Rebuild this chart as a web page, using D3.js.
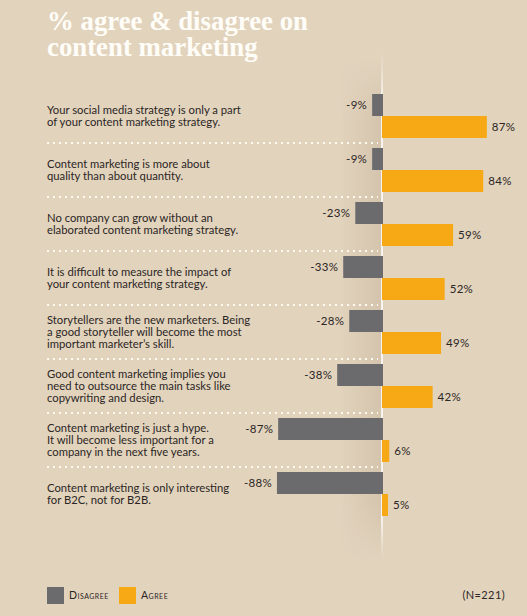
<!DOCTYPE html>
<html><head><meta charset="utf-8">
<script src="https://cdn.jsdelivr.net/npm/d3@7"></script>
<style>
html,body{margin:0;padding:0;background:#e2d3bd;}
svg{display:block;}
</style></head>
<body>
<script>
const categories = [
  ["Your social media strategy is only a part", "of your content marketing strategy."],
  ["Content marketing is more about", "quality than about quantity."],
  ["No company can grow without an", "elaborated content marketing strategy."],
  ["It is difficult to measure the impact of", "your content marketing strategy."],
  ["Storytellers are the new marketers. Being", "a good storyteller will become the most", "important marketer’s skill."],
  ["Good content marketing implies you", "need to outsource the main tasks like", "copywriting and design."],
  ["Content marketing is just a hype.", "It will become less important for a", "company in the next five years."],
  ["Content marketing is only interesting", "for B2C, not for B2B."]
];
const disagree = [-9, -9, -23, -33, -28, -38, -87, -88];
const agree = [87, 84, 59, 52, 49, 42, 6, 5];
const seriesNames = ["Disagree", "Agree"];
const titleLines = ["% agree & disagree on", "content marketing"];
const note = "(N=221)";

const W = 527, H = 616;
const colors = {Disagree: "#6b6a6c", Agree: "#f6a815"};
const svg = d3.select("body").append("svg").attr("width", W).attr("height", H);
svg.append("rect").attr("width", W).attr("height", H).attr("fill", "#e2d3bd");

const defs = svg.append("defs");
const shade = defs.append("linearGradient").attr("id", "shade").attr("x1", 0).attr("x2", 1).attr("y1", 0).attr("y2", 0);
shade.append("stop").attr("offset", "0%").attr("stop-color", "#c9b8a0").attr("stop-opacity", 0);
shade.append("stop").attr("offset", "100%").attr("stop-color", "#c9b8a0").attr("stop-opacity", 0.55);
const vfade = defs.append("linearGradient").attr("id", "vfade").attr("x1", 0).attr("x2", 0).attr("y1", 0).attr("y2", 1);
vfade.append("stop").attr("offset", "0%").attr("stop-color", "#fff").attr("stop-opacity", 0);
vfade.append("stop").attr("offset", "10%").attr("stop-color", "#fff").attr("stop-opacity", 1);
vfade.append("stop").attr("offset", "92%").attr("stop-color", "#fff").attr("stop-opacity", 1);
vfade.append("stop").attr("offset", "100%").attr("stop-color", "#fff").attr("stop-opacity", 0);
const sfade = defs.append("linearGradient").attr("id", "sfade").attr("x1", 0).attr("x2", 0).attr("y1", 0).attr("y2", 1);
sfade.append("stop").attr("offset", "0%").attr("stop-color", "#fff").attr("stop-opacity", 0);
sfade.append("stop").attr("offset", "12%").attr("stop-color", "#fff").attr("stop-opacity", 1);
sfade.append("stop").attr("offset", "88%").attr("stop-color", "#fff").attr("stop-opacity", 1);
sfade.append("stop").attr("offset", "100%").attr("stop-color", "#fff").attr("stop-opacity", 0);
const mask = defs.append("mask").attr("id", "smask");
mask.append("rect").attr("x", 0).attr("y", 60).attr("width", W).attr("height", 500).attr("fill", "url(#sfade)");

// scales
const x = d3.scaleLinear().domain([-100, 100]).range([261.5, 502.5]);
const y = d3.scaleBand().domain(d3.range(categories.length)).range([94, 516]).paddingInner(10 / 54).paddingOuter(0);
const ys = d3.scaleBand().domain(seriesNames).range([0, y.bandwidth()]);

// shaded band near axis
svg.append("rect").attr("x", x(-35)).attr("y", 60).attr("width", x(0) - x(-35)).attr("height", 500)
  .attr("fill", "url(#shade)").attr("mask", "url(#smask)");

// title
const title = svg.append("g").attr("fill", "#fffdf8")
  .style("font-family", "'Liberation Serif', 'DejaVu Serif', serif").style("font-weight", "bold");
titleLines.forEach((t, i) => {
  title.append("text").attr("x", 47).attr("y", 30 + i * 25.5).text(t);
});
title.style("font-size", "26px");
const tw = title.select("text").node().getComputedTextLength();
title.style("font-size", (26 * 261 / tw).toFixed(2) + "px");

// zero line
svg.append("rect").attr("x", x(0) - 0.8).attr("y", 53).attr("width", 1.6).attr("height", 505).attr("fill", "url(#vfade)");

// separators
const seps = d3.range(categories.length - 1);
svg.append("g").selectAll("line").data(seps).join("line")
  .attr("x1", 47).attr("x2", 378)
  .attr("y1", d => y(d) + y.bandwidth() + (y.step() - y.bandwidth()) / 2)
  .attr("y2", d => y(d) + y.bandwidth() + (y.step() - y.bandwidth()) / 2)
  .attr("stroke", "#fffaf2").attr("stroke-width", 2).attr("stroke-dasharray", "2,4");

// labels
const lh = 11.7;
const lab = svg.append("g").style("font-family", "Lato, 'Open Sans', sans-serif").style("font-size", "12px")
  .attr("fill", "#2b2624");
categories.forEach((lines, i) => {
  const c = y(i) + y.bandwidth() / 2;
  const t = lab.append("text").attr("x", 47);
  lines.forEach((l, j) => {
    t.append("tspan").attr("x", 47).attr("y", c - (lines.length - 1) * lh / 2 + 4 + j * lh).text(l);
  });
});
const lw = lab.select("tspan").node().getComputedTextLength();
lab.style("font-size", Math.min(12.5, 12 * 194 / lw).toFixed(2) + "px");

// bars
const rows = categories.map((c, i) => ({i, Disagree: disagree[i], Agree: agree[i]}));
const bars = svg.append("g");
seriesNames.forEach(s => {
  bars.selectAll("rect." + s).data(rows).join("rect").attr("class", s)
    .attr("x", d => Math.min(x(0), x(d[s])) + (s === "Disagree" ? 1 : 0))
    .attr("y", d => y(d.i) + ys(s))
    .attr("width", d => Math.abs(x(d[s]) - x(0)))
    .attr("height", ys.bandwidth())
    .attr("fill", colors[s]);
});

// value labels
const vl = svg.append("g").style("font-family", "Lato, 'Open Sans', sans-serif").style("font-size", "11.5px")
  .style("letter-spacing", "0.3px").attr("fill", "#2b2624");
vl.selectAll("text.d").data(rows).join("text").attr("class", "d")
  .attr("x", d => x(d.Disagree) + 1 - 5).attr("y", d => y(d.i) + ys("Disagree") + ys.bandwidth() / 2 + 4)
  .attr("text-anchor", "end").text(d => d.Disagree + "%");
vl.selectAll("text.a").data(rows).join("text").attr("class", "a")
  .attr("x", d => x(d.Agree) + 5).attr("y", d => y(d.i) + ys("Agree") + ys.bandwidth() / 2 + 4)
  .text(d => d.Agree + "%");

// legend
const leg = svg.append("g").style("font-family", "Lato, 'Open Sans', sans-serif").style("font-size", "10.5px")
  .style("font-variant", "small-caps").style("letter-spacing", "0.5px").attr("fill", "#2b2624");
const legX = [47, 119];
seriesNames.forEach((s, i) => {
  leg.append("rect").attr("x", legX[i]).attr("y", 587).attr("width", 17).attr("height", 17).attr("fill", colors[s]);
  leg.append("text").attr("x", legX[i] + 22).attr("y", 599).text(s);
});
svg.append("text").attr("x", 505).attr("y", 599).attr("text-anchor", "end")
  .style("font-family", "Lato, 'Open Sans', sans-serif").style("font-size", "11px").style("letter-spacing", "0.4px")
  .attr("fill", "#2b2624").text(note);
</script>
</body></html>
